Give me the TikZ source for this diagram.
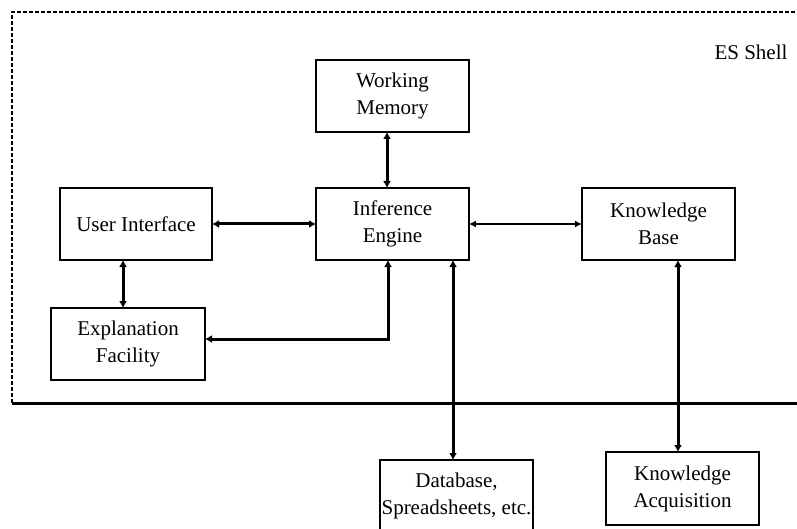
\documentclass[tikz,border=0pt]{standalone}
\usepackage{fontspec}
\setmainfont{Liberation Serif}
\usetikzlibrary{arrows.meta}
\tikzset{
  box/.style={draw, line width=1.2pt, minimum width=153pt, minimum height=72pt, inner sep=0pt, outer sep=0pt, align=center, font=\fontsize{21}{27}\selectfont},
  thk/.style={line width=3pt, {Latex[length=7pt,width=8pt]}-{Latex[length=7pt,width=8pt]}},
  thn/.style={line width=1.5pt, {Latex[length=7pt,width=7pt]}-{Latex[length=7pt,width=7pt]}},
  shellline/.style={line width=1.5pt, dash pattern=on 4pt off 2pt},
}
\begin{document}
\begin{tikzpicture}[x=1pt,y=-1pt]
\useasboundingbox (0,0) rectangle (797,529);
\draw[shellline] (12,403) -- (12,12) -- (797,12);
\draw[line width=3pt] (12,403) -- (797,403);
\node[anchor=east, font=\fontsize{21}{27}\selectfont] (es) at (791,52) {ES Shell};
\node[box] (wm) at (392.5,96) {Working\\Memory};
\node[box, minimum width=152pt] (ui) at (136,224) {User Interface};
\node[box] (ie) at (392.5,224) {Inference\\Engine};
\node[box] (kb) at (658.5,224) {Knowledge\\Base};
\node[box, minimum width=154pt] (ef) at (128,344) {Explanation\\Facility};
\node[box] (db) at (456.5,496) {Database,\\Spreadsheets, etc.};
\node[box, minimum height=73pt] (ka) at (682.5,488.5) {Knowledge\\Acquisition};
\draw[thk] ([xshift=-5.5pt]wm.south) -- ([xshift=-5.5pt]ie.north);
\draw[thk] (ui.east) -- (ie.west);
\draw[thn] (ie.east) -- (kb.west);
\draw[thk] ([xshift=-13pt]ui.south) -- ([xshift=-5pt]ef.north);
\draw[thk] ([xshift=-4.5pt]ie.south) |- ([yshift=5pt]ef.east);
\draw[thk] ([xshift=60.5pt]ie.south) -- ([xshift=-3.5pt]db.north);
\draw[thk] ([xshift=19.5pt]kb.south) -- ([xshift=-4.5pt]ka.north);
\end{tikzpicture}
\end{document}
